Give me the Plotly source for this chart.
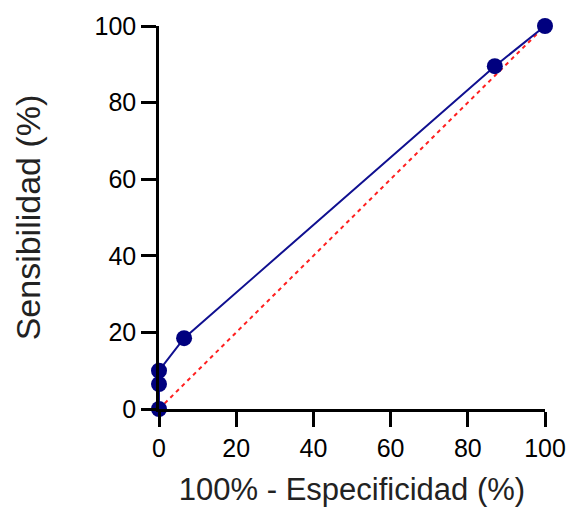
import plotly.graph_objects as go

fpr = [0, 0, 0, 6.5, 87, 100]
tpr = [0, 6.5, 10, 18.5, 89.5, 100]
diag_x = [0, 100]
diag_y = [0, 100]
ticks = [0, 20, 40, 60, 80, 100]

fig = go.Figure()
fig.add_trace(go.Scatter(x=diag_x, y=diag_y, mode="lines",
                         line=dict(color="#ff2020", width=2, dash="4px,4px"),
                         cliponaxis=False, showlegend=False))
fig.add_trace(go.Scatter(x=fpr, y=tpr, mode="lines+markers",
                         line=dict(color="#101090", width=2),
                         marker=dict(color="#00007f", size=16, symbol="circle"),
                         cliponaxis=False, showlegend=False))

axis_common = dict(range=[0, 100], tickvals=ticks, showgrid=False, zeroline=False,
                   showline=True, linecolor="black", linewidth=2.5, automargin=False,
                   ticks="outside", ticklen=15, tickwidth=2.5, tickcolor="black",
                   tickfont=dict(family="Liberation Sans, Arial", size=25, color="black"))

fig.update_layout(
    width=569, height=510,
    margin=dict(l=159, r=24, t=26, b=101),
    plot_bgcolor="white", paper_bgcolor="white",
    xaxis=dict(**axis_common,
               title=dict(text="100% - Especificidad (%)",
                          font=dict(family="Liberation Sans, Arial", size=31, color="#222"),
                          standoff=18)),
    yaxis=dict(**axis_common,
               title=dict(text="Sensibilidad (%)",
                          font=dict(family="Liberation Sans, Arial", size=34, color="#222"),
                          standoff=44)),
)
fig.write_html("out.html")
